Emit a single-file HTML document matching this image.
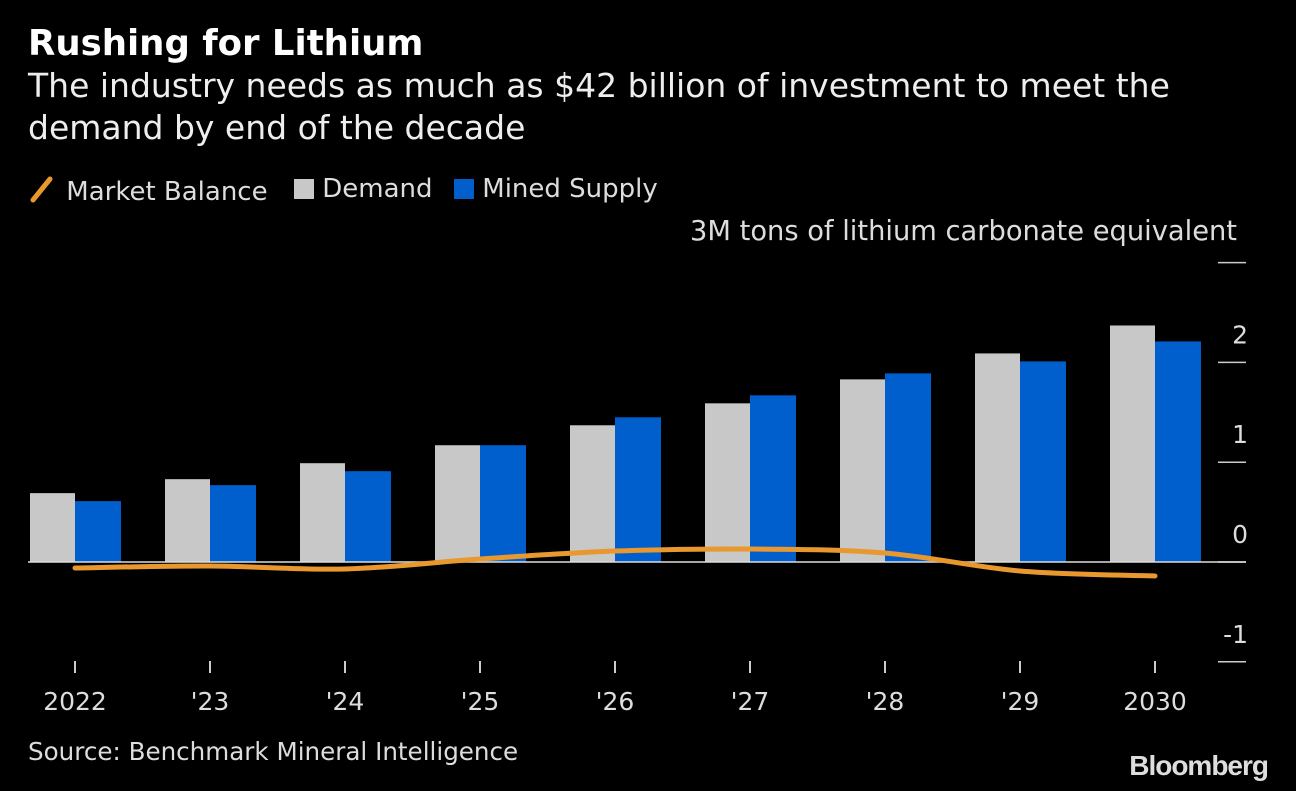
<!DOCTYPE html>
<html><head><meta charset="utf-8"><style>
body{margin:0;background:#000;width:1296px;height:791px;overflow:hidden;font-family:"DejaVu Sans",sans-serif;color:#fff}
.t{position:absolute;white-space:nowrap}
</style></head><body>
<div class="t" style="left:28px;top:23px;font-size:35.5px;font-weight:bold">Rushing for Lithium</div>
<div class="t" style="left:28px;top:65px;font-size:33px;line-height:42px;color:#eee">The industry needs as much as $42 billion of investment to meet the<br>demand by end of the decade</div>
<div style="position:absolute;left:28px;top:174px;font-size:26px;color:#ddd">
<span style="position:absolute;left:0;top:0;white-space:nowrap"><svg width="30" height="30" style="vertical-align:-4px"><line x1="5" y1="26" x2="22" y2="5" stroke="#e8982e" stroke-width="5" stroke-linecap="round"/></svg> Market Balance</span>
<span style="position:absolute;left:266px;top:0;white-space:nowrap"><span style="display:inline-block;width:20px;height:20px;background:#c8c8c8;vertical-align:-2px"></span> Demand</span>
<span style="position:absolute;left:426px;top:0;white-space:nowrap"><span style="display:inline-block;width:20px;height:20px;background:#005fcc;vertical-align:-2px"></span> Mined Supply</span>
</div>
<div class="t" style="right:59px;top:216px;font-size:27.3px;color:#ddd">3M tons of lithium carbonate equivalent</div>
<svg id="c" width="1296" height="791" style="position:absolute;left:0;top:0"></svg>
<div class="t" style="left:28px;top:737px;font-size:24.6px;color:#ddd">Source: Benchmark Mineral Intelligence</div>
<div class="t" style="right:28px;top:750px;font-size:28px;font-weight:bold;color:#ddd;letter-spacing:-1px;font-family:'Liberation Sans',sans-serif">Bloomberg</div>
<script>
const categories=["2022","'23","'24","'25","'26","'27","'28","'29","2030"];
const demand=[0.69,0.83,0.99,1.17,1.37,1.59,1.83,2.09,2.37];
const supply=[0.61,0.77,0.91,1.17,1.45,1.67,1.89,2.01,2.21];
const balance=[-0.06,-0.04,-0.07,0.03,0.11,0.13,0.09,-0.09,-0.14];
const yTicks=[-1,0,1,2,3];
const yLabels=["-1","0","1","2",""];
const svg=document.getElementById('c');
const NS='http://www.w3.org/2000/svg';
const y=v=>562-v*99.8;
const x=i=>75+i*135;
function mk(t,a){const e=document.createElementNS(NS,t);for(const k in a)e.setAttribute(k,a[k]);svg.appendChild(e);return e;}
yTicks.forEach((v,i)=>{
 const l=mk('line',{x1:1218,x2:1246,y1:y(v),y2:y(v),stroke:'#ccc','stroke-width':1.5});
 
 
 if(yLabels[i]){const t=mk('text',{x:1248,y:y(v)-19,'text-anchor':'end','font-size':25,fill:'#ddd','font-family':'DejaVu Sans'});t.textContent=yLabels[i];
 
 }
});
categories.forEach((c,i)=>{
 const d=mk('rect',{x:x(i)-45,y:y(demand[i]),width:45,height:y(0)-y(demand[i]),fill:'#c8c8c8'});
 
 
 const s=mk('rect',{x:x(i),y:y(supply[i]),width:46,height:y(0)-y(supply[i]),fill:'#005fcc'});
 
 
 const tk=mk('line',{x1:x(i),x2:x(i),y1:661,y2:673,stroke:'#ccc','stroke-width':2});
 
 
 const t=mk('text',{x:x(i),y:710,'text-anchor':'middle','font-size':25,fill:'#ddd','font-family':'DejaVu Sans'});t.textContent=c;
 
 
});
const base=mk('line',{x1:28,x2:1246,y1:y(0),y2:y(0),stroke:'#ddd','stroke-width':1.5});


const pts=balance.map((v,i)=>[x(i),y(v)]);
let p='M'+pts[0][0]+','+pts[0][1];
for(let i=0;i<pts.length-1;i++){
 const p0=pts[Math.max(0,i-1)],p1=pts[i],p2=pts[i+1],p3=pts[Math.min(pts.length-1,i+2)];
 const c1=[p1[0]+(p2[0]-p0[0])/6,p1[1]+(p2[1]-p0[1])/6];
 const c2=[p2[0]-(p3[0]-p1[0])/6,p2[1]-(p3[1]-p1[1])/6];
 p+=` C${c1[0]},${c1[1]} ${c2[0]},${c2[1]} ${p2[0]},${p2[1]}`;
}
const ln=mk('path',{d:p,fill:'none',stroke:'#e8982e','stroke-width':5,'stroke-linecap':'round'});


</script>
</body></html>
